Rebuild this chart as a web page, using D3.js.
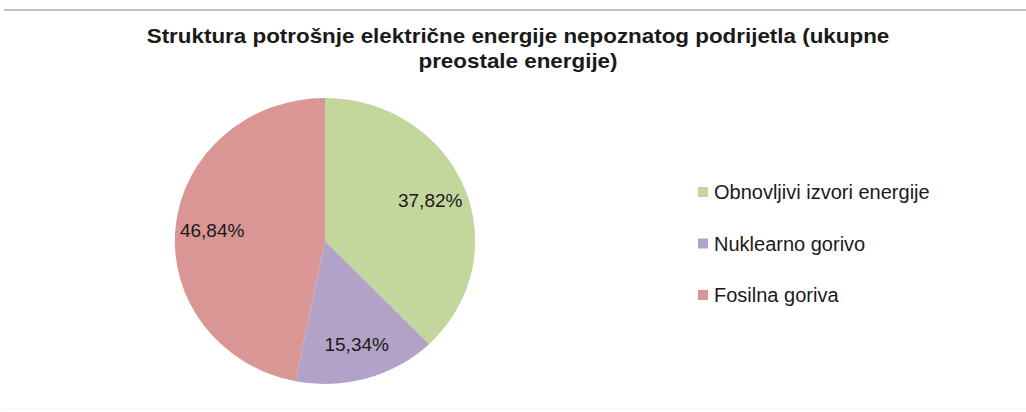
<!DOCTYPE html>
<html><head><meta charset="UTF-8">
<script src="https://cdn.jsdelivr.net/npm/d3@7"></script>
<style>
  body { margin: 0; background: #fff; }
  text { font-family: "Liberation Sans", Arial, sans-serif; fill: #1a1a1a; }
</style>
</head>
<body>
<svg width="1026" height="412"></svg>
<script>
// data
const categories = ["Obnovljivi izvori energije", "Nuklearno gorivo", "Fosilna goriva"];
const shares = [37.82, 15.34, 46.84];
const shareLabels = ["37,82%", "15,34%", "46,84%"];
const colors = ["#c3d69b", "#b3a2c7", "#d99694"];
const titleLines = ["Struktura potrošnje električne energije nepoznatog podrijetla (ukupne", "preostale energije)"];

let width = 1026, height = 412;
let svg = d3.select("svg");

// frame lines
svg.append("line").attr("x1", 4).attr("x2", width).attr("y1", 10).attr("y2", 10)
  .attr("stroke", "#aaa").attr("stroke-width", 1.5);
svg.append("line").attr("x1", 4).attr("x2", width).attr("y1", 409).attr("y2", 409)
  .attr("stroke", "#f0f0f0").attr("stroke-width", 1);

// title (source is a bit wider than Arial, so stretch it)
svg.append("g").attr("transform", "translate(518,0) scale(1.12,1)")
  .selectAll("text")
  .data(titleLines)
  .enter().append("text")
    .attr("x", 0)
    .attr("y", (d, i) => 43 + i * 25)
    .attr("text-anchor", "middle")
    .style("font-size", "20px")
    .style("font-weight", "bold")
    .text(d => d);

let color = d3.scaleOrdinal().domain(categories).range(colors);

let pie = d3.pie().sort(null).value(d => d.value);
let data = categories.map((c, i) => ({name: c, value: shares[i], label: shareLabels[i]}));
let arcs = pie(data);

let r = 143;
let arc = d3.arc().innerRadius(0).outerRadius(r);
let labelArc = d3.arc().innerRadius(108).outerRadius(108);

let g = svg.append("g").attr("transform", "translate(325,241)");
g.append("g").attr("transform", "scale(1.05,1)")
  .selectAll("path")
  .data(arcs)
  .enter().append("path")
    .attr("d", arc)
    .attr("fill", d => color(d.data.name));

g.selectAll("text.lbl")
  .data(arcs)
  .enter().append("text")
    .attr("class", "lbl")
    .attr("transform", d => { let c = labelArc.centroid(d); return "translate(" + (c[0] * 1.05) + "," + c[1] + ")"; })
    .attr("text-anchor", "middle")
    .attr("dy", "0.35em")
    .style("font-size", "19px")
    .text(d => d.data.label);

// legend
let legend = svg.append("g").attr("transform", "translate(698,192)");
let item = legend.selectAll("g")
  .data(categories)
  .enter().append("g")
    .attr("transform", (d, i) => "translate(0," + (i * 51.5) + ")");
item.append("rect")
  .attr("x", 0).attr("y", -5).attr("width", 10).attr("height", 10)
  .attr("fill", d => color(d));
item.append("text")
  .attr("x", 16).attr("dy", "0.35em")
  .style("font-size", "20px")
  .text(d => d);
</script>
</body></html>
